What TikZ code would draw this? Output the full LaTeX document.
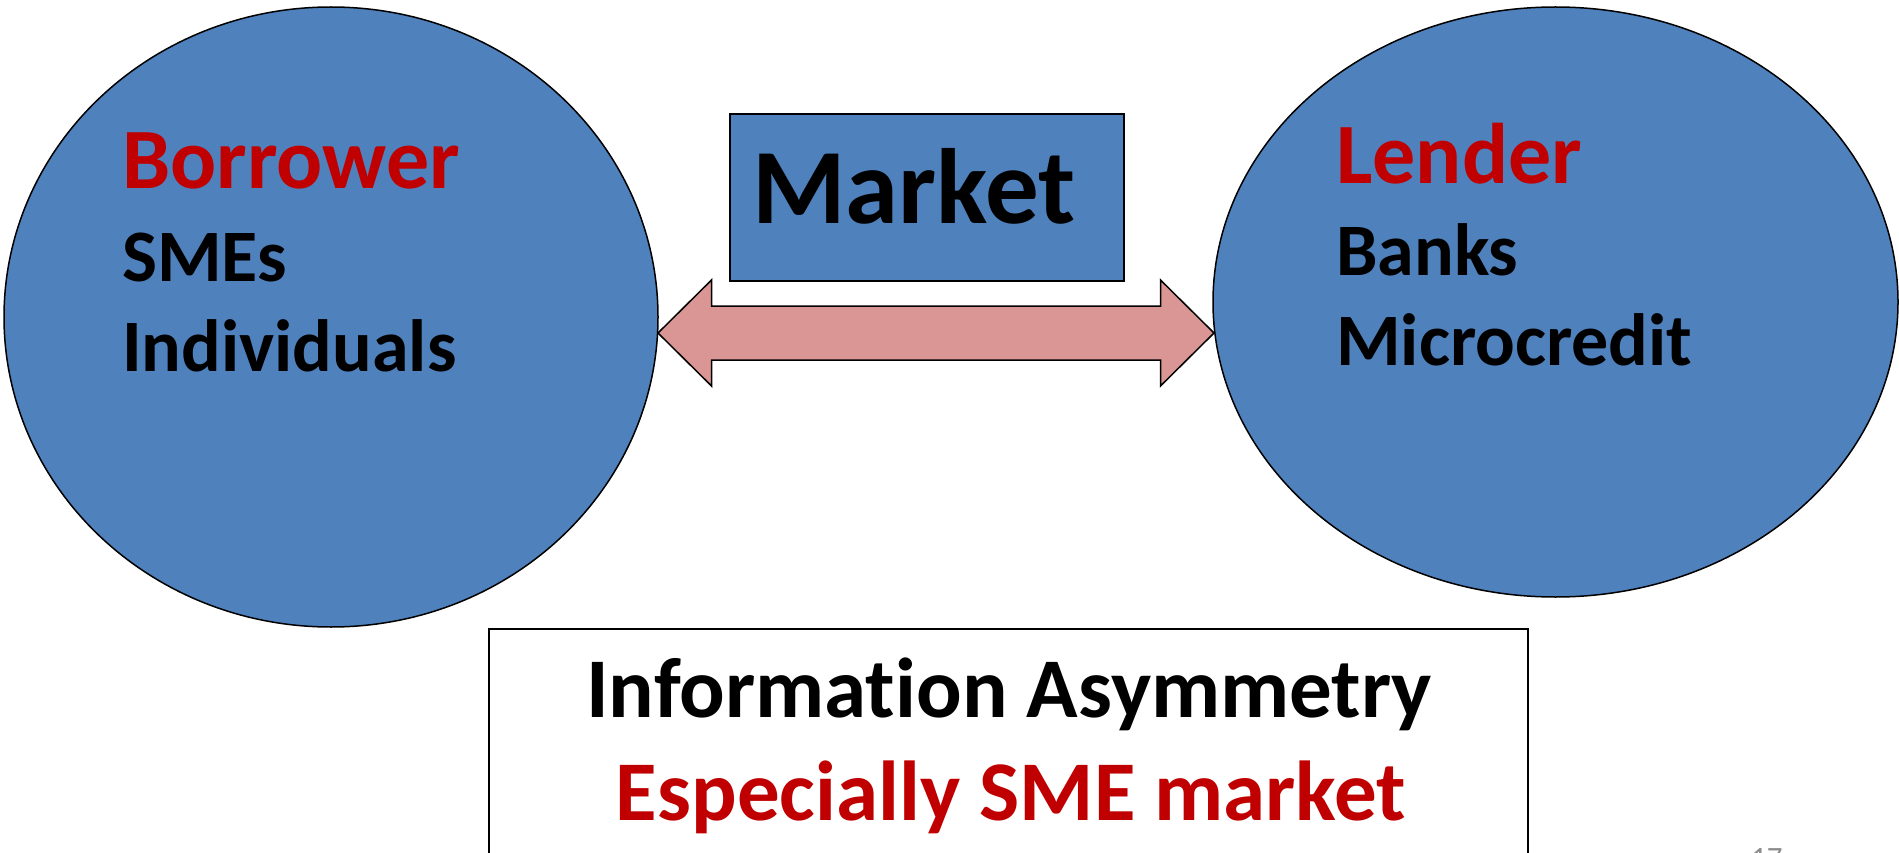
\documentclass[tikz,border=0pt]{standalone}
\usepackage{fontspec}
\setmainfont{Carlito}[Ligatures={NoCommon}]
\usetikzlibrary{shapes.geometric}
\definecolor{blobblue}{HTML}{4F81BD}
\definecolor{arrowpink}{HTML}{D99694}
\definecolor{headred}{HTML}{C00000}
\definecolor{pagegray}{HTML}{8C8C8C}
\newcommand{\fsz}[1]{\fontsize{#1}{#1}\selectfont}

\begin{document}
\begin{tikzpicture}[x=1pt,y=-1pt,
  party/.style={ellipse, draw=black, line width=1.5pt, fill=blobblue, inner sep=0pt},
  boxed/.style={rectangle, draw=black, line width=1.5pt, inner sep=0pt},
  blockarrow/.style={draw=black, line width=1.5pt, fill=arrowpink, line join=miter},
  title/.style={anchor=base west, inner sep=0pt, text=headred, font=\bfseries\fsz{86}},
  member/.style={anchor=base west, inner sep=0pt, text=black, font=\bfseries\fsz{74}},
  boxtext/.style={anchor=base, inner sep=0pt, font=\bfseries\fsz{85}}]

\useasboundingbox (0,0) rectangle (1899,853);

% the two market parties
\node[party, minimum width=654pt, minimum height=620pt] (borrower) at (331,317) {};
\node[party, minimum width=685pt, minimum height=590pt] (lender) at (1555.5,302) {};

\node[title]  (borrowerT) at (122,189) {Borrower};
\node[member] (smes)      at (122,281) {SMEs};
\node[member] (indiv)     at (122,371) {Individuals};

\node[title]  (lenderT) at (1336,184) {Lender};
\node[member] (banks)   at (1336,275.5) {Banks};
\node[member] (micro)   at (1336,365.5) {Microcredit};

% the market in between
\node[boxed, fill=blobblue, minimum width=394pt, minimum height=167pt] (marketbox) at (927,197.5) {};
\node[anchor=base west, inner sep=0pt, font=\bfseries\fsz{107}] (market) at (752,224) {Market};

% two-way block arrow between the parties
\coordinate (ltip) at (658,333);
\coordinate (rtip) at (1214,333);
\draw[blockarrow] (ltip) -- ++(53.5,-53) -- ++(0,26) -- ++(449,0) -- ++(0,-26)
  -- (rtip) -- ++(-53.5,53) -- ++(0,-26) -- ++(-449,0) -- ++(0,26) -- cycle;

% information asymmetry box
\node[boxed, fill=white, minimum width=1039pt, minimum height=300pt, anchor=north west] (infobox) at (488,628) {};
\node[boxtext] (info1) at (1009,717.5) {Information Asymmetry};
\node[boxtext, text=headred] (info2) at (1011,820) {Especially SME market};

% slide number
\node[anchor=base west, inner sep=0pt, text=pagegray, font=\fsz{31}] (pagenum) at (1751,868) {17};
\end{tikzpicture}
\end{document}
